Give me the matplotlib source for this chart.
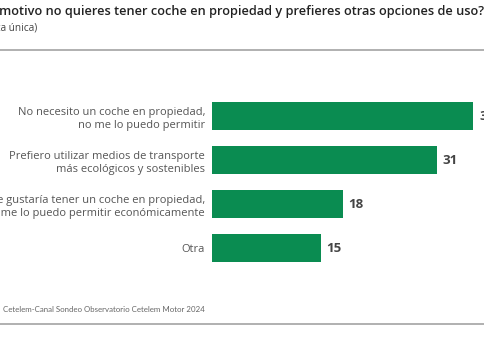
import matplotlib.pyplot as plt

categorias = ['No necesito un coche en propiedad,\nno me lo puedo permitir',
              'Prefiero utilizar medios de transporte\nmás ecológicos y sostenibles',
              'Me gustaría tener un coche en propiedad,\npero no me lo puedo permitir económicamente',
              'Otra']
valores = [36, 31, 18, 15]

titulo = '¿Por qué motivo no quieres tener coche en propiedad y prefieres otras opciones de uso?'
subtitulo = '(Respuesta única)'
fuente = 'Cetelem-Canal Sondeo Observatorio Cetelem Motor 2024'

plt.rcParams['font.family'] = ['Open Sans', 'DejaVu Sans']

fig = plt.figure(figsize=(4.85, 3.6), dpi=100)
W, H = 485, 360

ax = fig.add_axes([212 / W, 90 / H, 273 / W, 176 / H])
pos = range(len(valores))
ax.barh(pos, valores, height=0.65, color='#0a8c51')
ax.set_xlim(0, 273 / 7.26)
ax.set_ylim(3.5, -0.5)
ax.set_yticks(list(pos))
ax.set_yticklabels(categorias, fontsize=8.0, color='#555555', linespacing=1.3)
ax.tick_params(axis='y', length=0, pad=5)
ax.set_xticks([])
for s in ax.spines.values():
    s.set_visible(False)
for i, v in enumerate(valores):
    ax.text(v + 0.8, i, str(v), va='center', ha='left', fontsize=9.5,
            fontweight='bold', color='#444444')

fig.text(484 / W, 1 - 12 / H, titulo, ha='right', va='center', fontsize=9.2,
         fontweight='semibold', color='#222222')
fig.text(37 / W, 1 - 28 / H, subtitulo, ha='right', va='center', fontsize=7.3,
         color='#444444')
fig.add_artist(plt.Line2D([0, 1], [1 - 50 / H, 1 - 50 / H], color='#aaaaaa', lw=1.3))
fig.text(3 / W, 1 - 309 / H, fuente, ha='left', va='center', fontsize=5.7,
         color='#666666', family='Lato')
fig.add_artist(plt.Line2D([0, 1], [1 - 324 / H, 1 - 324 / H], color='#aaaaaa', lw=1.3))

fig.savefig('out.png', dpi=100)
